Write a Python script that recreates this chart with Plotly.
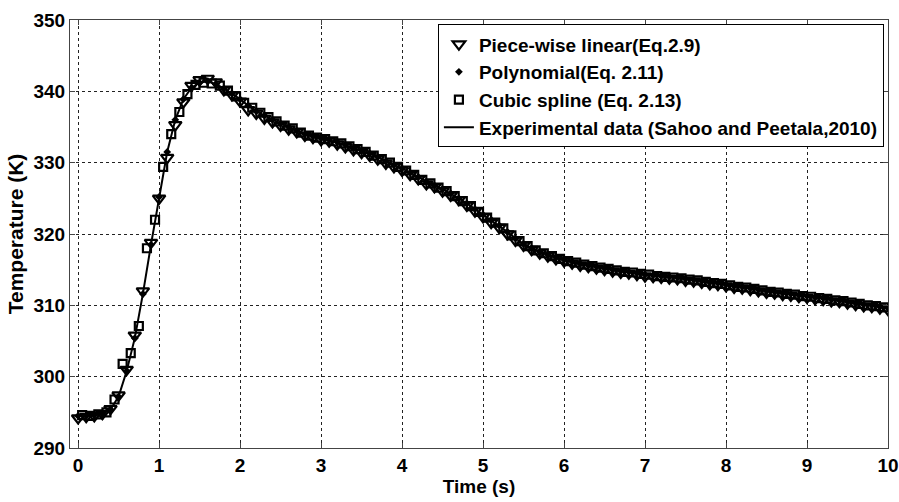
import plotly.graph_objects as go

# Experimental data (line), sampled every 0.1 s
t_exp = [round(i * 0.1, 1) for i in range(101)]
T_exp = [294.5, 294.5, 294.6, 294.8, 295.4, 297.2, 300.8, 305.4, 311.6, 318.5,
         325.2, 331.5, 336.0, 338.9, 340.5, 341.2, 341.4, 341.0, 340.4, 339.7,
         338.9, 338.0, 337.2, 336.6, 336.0, 335.5, 335.0, 334.5, 334.0, 333.7,
         333.4, 333.2, 332.9, 332.5, 332.0, 331.7, 331.3, 330.8, 330.2, 329.7,
         329.2, 328.6, 328.0, 327.3, 326.8, 326.3, 325.7, 325.0, 324.3, 323.5,
         322.7, 322.0, 321.2, 320.3, 319.4, 318.6, 318.0, 317.5, 317.1, 316.7,
         316.4, 316.1, 315.8, 315.6, 315.4, 315.2, 315.0, 314.8, 314.7, 314.5,
         314.3, 314.2, 314.1, 314.0, 313.9, 313.7, 313.6, 313.4, 313.2, 313.1,
         312.9, 312.7, 312.6, 312.4, 312.2, 312.0, 311.9, 311.7, 311.6, 311.4,
         311.3, 311.1, 311.0, 310.8, 310.7, 310.5, 310.3, 310.1, 310.0, 309.8,
         309.6]

# Piece-wise linear (Eq.2.9) markers
t_pwl = [round(i * 0.1, 1) for i in range(101)]
T_pwl = [294.2, 294.4, 294.5, 294.8, 295.5, 297.4, 301.0, 305.8, 312.0, 318.8,
         325.0, 330.7, 335.3, 338.5, 340.8, 341.6, 341.8, 341.3, 340.2, 339.5,
         338.6, 337.4, 336.9, 336.2, 335.7, 335.2, 334.7, 334.3, 333.8, 333.5,
         333.2, 333.0, 332.6, 332.2, 331.8, 331.4, 331.0, 330.5, 329.9, 329.4,
         328.9, 328.3, 327.7, 327.0, 326.6, 326.0, 325.4, 324.8, 324.0, 323.2,
         322.4, 321.6, 320.9, 320.0, 319.1, 318.4, 317.8, 317.3, 316.9, 316.5,
         316.2, 315.9, 315.6, 315.4, 315.2, 315.0, 314.8, 314.6, 314.5, 314.3,
         314.1, 314.0, 313.9, 313.8, 313.7, 313.5, 313.4, 313.2, 313.0, 312.9,
         312.7, 312.5, 312.4, 312.2, 312.0, 311.8, 311.7, 311.5, 311.4, 311.2,
         311.1, 310.9, 310.8, 310.6, 310.5, 310.3, 310.1, 309.9, 309.8, 309.6,
         309.4]

# Polynomial (Eq. 2.11) markers
t_poly = [round(i * 0.1, 1) for i in range(101)]
T_poly = [294.5, 294.5, 294.6, 294.8, 295.4, 297.2, 300.8, 305.4, 311.6, 318.5,
          325.2, 331.5, 336.0, 338.9, 340.5, 341.2, 341.4, 341.0, 340.4, 339.7,
          338.9, 338.0, 337.2, 336.6, 336.0, 335.5, 335.0, 334.5, 334.0, 333.7,
          333.4, 333.2, 332.9, 332.5, 332.0, 331.7, 331.3, 330.8, 330.2, 329.7,
          329.2, 328.6, 328.0, 327.3, 326.8, 326.3, 325.7, 325.0, 324.3, 323.5,
          322.7, 322.0, 321.2, 320.3, 319.4, 318.6, 318.0, 317.5, 317.1, 316.7,
          316.4, 316.1, 315.8, 315.6, 315.4, 315.2, 315.0, 314.8, 314.7, 314.5,
          314.3, 314.2, 314.1, 314.0, 313.9, 313.7, 313.6, 313.4, 313.2, 313.1,
          312.9, 312.7, 312.6, 312.4, 312.2, 312.0, 311.9, 311.7, 311.6, 311.4,
          311.3, 311.1, 311.0, 310.8, 310.7, 310.5, 310.3, 310.1, 310.0, 309.8,
          309.6]

# Cubic spline (Eq. 2.13) markers
t_cs = [round(0.05 + i * 0.1, 2) for i in range(100)]
T_cs = [294.6, 294.5, 294.7, 295.0, 296.8, 301.8, 303.3, 307.1, 318.0, 322.0,
        329.4, 334.0, 337.1, 339.6, 340.9, 341.2, 341.1, 340.8, 340.1, 339.3,
        338.4, 337.7, 337.0, 336.4, 335.8, 335.2, 334.8, 334.2, 333.8, 333.5,
        333.3, 333.0, 332.7, 332.3, 331.9, 331.5, 331.0, 330.5, 330.0, 329.4,
        328.9, 328.3, 327.6, 327.1, 326.5, 326.0, 325.3, 324.6, 323.9, 323.1,
        322.3, 321.6, 320.8, 319.8, 319.0, 318.3, 317.7, 317.3, 316.9, 316.5,
        316.2, 316.0, 315.7, 315.5, 315.3, 315.1, 314.9, 314.7, 314.6, 314.4,
        314.3, 314.1, 314.0, 313.9, 313.8, 313.6, 313.5, 313.3, 313.1, 313.0,
        312.8, 312.6, 312.5, 312.3, 312.1, 311.9, 311.8, 311.6, 311.5, 311.3,
        311.2, 311.0, 310.9, 310.7, 310.6, 310.4, 310.2, 310.0, 309.9, 309.7]

x_ticks = [0, 1, 2, 3, 4, 5, 6, 7, 8, 9, 10]
y_ticks = [290, 300, 310, 320, 330, 340, 350]

FONT = "Liberation Sans, Arial, sans-serif"

fig = go.Figure()
fig.add_trace(go.Scatter(
    x=t_pwl, y=T_pwl, mode="markers", name="Piece-wise linear(Eq.2.9)",
    marker=dict(symbol="triangle-down-open", size=11, color="black",
                line=dict(color="black", width=2.2))))
fig.add_trace(go.Scatter(
    x=t_poly, y=T_poly, mode="markers", name="Polynomial(Eq. 2.11)",
    marker=dict(symbol="diamond", size=6, color="black")))
fig.add_trace(go.Scatter(
    x=t_cs, y=T_cs, mode="markers", name="Cubic spline (Eq. 2.13)",
    marker=dict(symbol="square-open", size=8, color="black",
                line=dict(color="black", width=2.2))))
fig.add_trace(go.Scatter(
    x=t_exp, y=T_exp, mode="lines",
    name="Experimental data (Sahoo and Peetala,2010)",
    line=dict(color="black", width=2)))

axis_common = dict(
    showline=True, linecolor="#444", linewidth=1, mirror="ticks",
    ticks="inside", ticklen=5, tickcolor="#444",
    showgrid=True, gridcolor="#222", griddash="dot", gridwidth=1,
    zeroline=False, automargin=False,
    tickfont=dict(family=FONT, size=19, color="black", weight="bold"),
)

fig.update_xaxes(range=[-0.1, 10], tickvals=x_ticks,
                 title=dict(text="Time (s)", standoff=0,
                            font=dict(family=FONT, size=19, color="black", weight="bold")),
                 **axis_common)
fig.update_yaxes(range=[290, 350], tickvals=y_ticks,
                 title=dict(text="Temperature (K)", standoff=4,
                            font=dict(family=FONT, size=21, color="black", weight="bold")),
                 **axis_common)

fig.update_layout(
    width=899, height=502,
    margin=dict(l=70, r=11, t=20, b=54),
    plot_bgcolor="white", paper_bgcolor="white",
    showlegend=True,
    legend=dict(x=0.995, y=0.99, xanchor="right", yanchor="top",
                bgcolor="white", bordercolor="black", borderwidth=1,
                font=dict(family=FONT, size=19, color="black", weight="bold"),
                tracegroupgap=0, itemwidth=30),
)

fig.write_html("out.html")
